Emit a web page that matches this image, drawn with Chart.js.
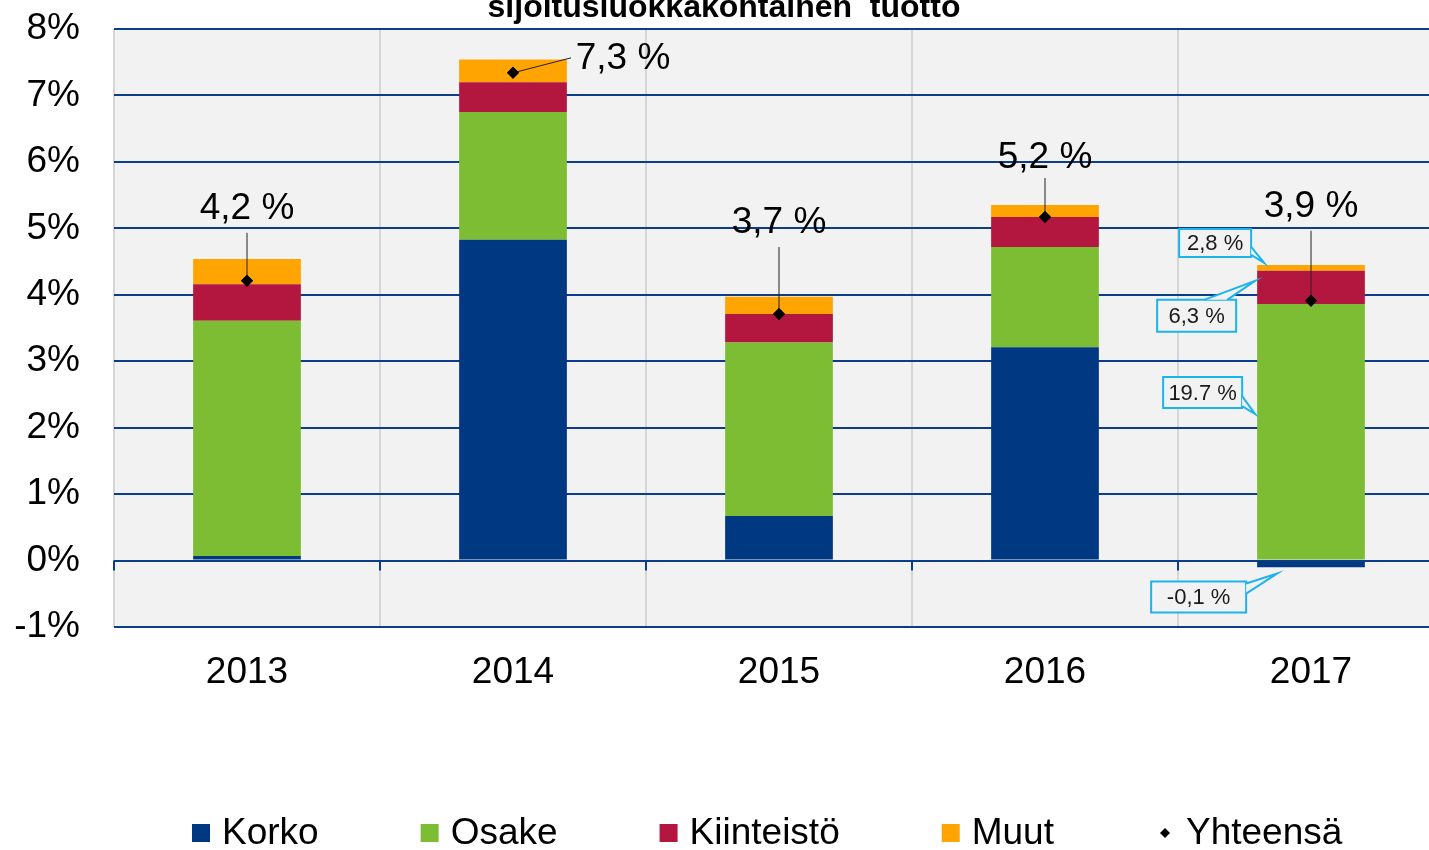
<!DOCTYPE html>
<html lang="fi">
<head>
<meta charset="UTF-8">
<title>Sijoitusluokkakohtainen tuotto</title>
<script src="https://cdn.jsdelivr.net/npm/chart.js"></script>
<style>
  * { margin: 0; padding: 0; box-sizing: border-box; }
  body { background: #fff; overflow: hidden; width: 1429px; height: 850px; }
  #wrap { position: relative; width: 1450px; height: 850px; }
</style>
</head>
<body>
<div id="wrap"><canvas id="chart" width="1450" height="850"></canvas></div>
<script>
// --- data ---
const years = ['2013', '2014', '2015', '2016', '2017'];
const korko = [0.07, 4.83, 0.67, 3.21, -0.10];
const osake = [3.54, 1.92, 2.61, 1.51, 3.86];
const kiinteisto = [0.55, 0.45, 0.43, 0.45, 0.50];
const muut = [0.38, 0.34, 0.26, 0.18, 0.09];
const yhteensa = [4.21, 7.34, 3.71, 5.17, 3.91];
const totalLabels = ['4,2 %', '7,3 %', '3,7 %', '5,2 %', '3,9 %'];
// callouts on the 2017 bar, one per series (Korko, Osake, Kiinteistö, Muut)
const callouts2017 = ['-0,1 %', '19.7 %', '6,3 %', '2,8 %'];
const yMin = -1, yMax = 8;

const FONT = '"Liberation Sans", Arial, sans-serif';
const colors = ['#003882', '#7dbd33', '#b3163f', '#ffa400'];
const names = ['Korko', 'Osake', 'Kiinteistö', 'Muut', 'Yhteensä'];

// label placement relative to the total marker: [label dx, label dy, leader end dx, leader end dy]
const labelPos = [
  [0, -72, 0, -48],
  [110, -14, 58, -15],
  [0, -91, 0, -67],
  [0, -59, 0, -39],
  [0, -94, 0, -70]
];
// callout boxes relative to their tip
const calloutGeo = [
  { tip: [20, 12], box: [-126, 8, 95, 31], base: [[-31, 10], [-31, 20]] },      // Korko, tip below bar
  { tip: [-2, 110], box: [-92, -37, 79, 31], base: [[-13, -18], [-13, -8]] },   // Osake
  { tip: [-2, 10], box: [-98, 19, 79, 32], base: [[-51, 19], [-28, 19]] },      // Kiinteistö
  { tip: [7, -2], box: [-85, -34, 72, 28], base: [[-13, -16], [-13, -8]] }       // Muut
];

const plotBg = {
  id: 'plotBg',
  beforeDraw(chart) {
    const { ctx, chartArea: a } = chart;
    ctx.save();
    ctx.fillStyle = '#f2f2f2';
    ctx.fillRect(a.left, a.top, a.right - a.left, a.bottom - a.top);
    ctx.restore();
  },
  beforeDatasetsDraw(chart) {
    // short tick marks under the 0 % line at category boundaries
    const { ctx, scales: { x, y } } = chart;
    const y0 = y.getPixelForValue(0);
    const half = (x.getPixelForValue(1) - x.getPixelForValue(0)) / 2;
    ctx.save();
    ctx.strokeStyle = '#0b3d8a';
    ctx.lineWidth = 2;
    for (let i = 0; i < years.length; i++) {
      const bx = x.getPixelForValue(i) - half;
      ctx.beginPath();
      ctx.moveTo(bx, y0);
      ctx.lineTo(bx, y0 + 10);
      ctx.stroke();
    }
    ctx.restore();
  }
};

const extras = {
  id: 'extras',
  afterDatasetsDraw(chart) {
    const { ctx } = chart;
    const totalMeta = chart.getDatasetMeta(4);
    ctx.save();
    // totals with leader lines
    ctx.font = '37px ' + FONT;
    ctx.fillStyle = '#000';
    ctx.textAlign = 'center';
    ctx.textBaseline = 'middle';
    totalMeta.data.forEach((pt, i) => {
      const p = labelPos[i];
      ctx.strokeStyle = '#222';
      ctx.lineWidth = 1;
      ctx.beginPath();
      ctx.moveTo(pt.x, pt.y);
      ctx.lineTo(pt.x + p[2], pt.y + p[3]);
      ctx.stroke();
      ctx.fillText(totalLabels[i], pt.x + p[0], pt.y + p[1]);
    });
    // redraw markers over leader lines
    totalMeta.data.forEach(pt => pt.draw(ctx));

    // callouts for 2017
    const last = years.length - 1;
    ctx.font = '22px ' + FONT;
    for (let s = 0; s < 4; s++) {
      const bar = chart.getDatasetMeta(s).data[last];
      const g = calloutGeo[s];
      const left = bar.x - bar.width / 2;
      const top = Math.min(bar.y, bar.base);
      const tx = left + g.tip[0], ty = top + g.tip[1];
      const [bx, by, bw, bh] = g.box;
      ctx.fillStyle = '#f2f2f2';
      ctx.strokeStyle = '#1cb4ef';
      ctx.lineWidth = 2;
      ctx.beginPath();
      ctx.rect(tx + bx, ty + by, bw, bh);
      ctx.fill();
      ctx.stroke();
      ctx.beginPath();
      ctx.moveTo(tx + g.base[0][0], ty + g.base[0][1]);
      ctx.lineTo(tx, ty);
      ctx.lineTo(tx + g.base[1][0], ty + g.base[1][1]);
      ctx.fill();
      ctx.stroke();
      ctx.fillStyle = '#1a1a1a';
      ctx.textAlign = 'center';
      ctx.fillText(callouts2017[s], tx + bx + bw / 2, ty + by + bh / 2 + 1);
    }
    ctx.restore();
  },
  afterDraw(chart) {
    const { ctx } = chart;
    ctx.save();
    // title, partly cut off at the top edge
    ctx.font = 'bold 32px ' + FONT;
    ctx.fillStyle = '#000';
    ctx.textAlign = 'center';
    ctx.textBaseline = 'alphabetic';
    ctx.fillText('sijoitusluokkakohtainen  tuotto', 724, 17);

    // legend
    ctx.font = '37px ' + FONT;
    ctx.textAlign = 'left';
    ctx.textBaseline = 'middle';
    let lx = 192;
    const ly = 833;
    names.forEach((n, i) => {
      if (i < 4) {
        ctx.fillStyle = colors[i];
        ctx.fillRect(lx, ly - 9, 18, 18);
      } else {
        ctx.fillStyle = '#000';
        ctx.beginPath();
        ctx.moveTo(lx + 9, ly - 5);
        ctx.lineTo(lx + 14, ly);
        ctx.lineTo(lx + 9, ly + 5);
        ctx.lineTo(lx + 4, ly);
        ctx.closePath();
        ctx.fill();
      }
      ctx.fillStyle = '#000';
      ctx.fillText(n, lx + 30, ly + 1);
      lx += 30 + ctx.measureText(n).width + 102;
    });
    ctx.restore();
  }
};

const seriesData = [korko, osake, kiinteisto, muut];

new Chart(document.getElementById('chart'), {
  data: {
    labels: years,
    datasets: [
      ...seriesData.map((d, i) => ({
        type: 'bar',
        label: names[i],
        data: d,
        backgroundColor: colors[i],
        stack: 'main',
        barPercentage: 0.405,
        categoryPercentage: 1,
        order: 2
      })),
      {
        type: 'line',
        label: names[4],
        data: yhteensa,
        stack: 'total',
        showLine: false,
        pointStyle: 'rectRot',
        pointRadius: 6,
        pointBackgroundColor: '#000',
        pointBorderColor: '#000',
        pointBorderWidth: 0,
        order: 1
      }
    ]
  },
  options: {
    responsive: false,
    animation: false,
    devicePixelRatio: 1,
    layout: { padding: { top: 29, right: 3, bottom: 0, left: 0 } },
    plugins: {
      legend: { display: false },
      title: { display: false },
      tooltip: { enabled: false }
    },
    scales: {
      x: {
        stacked: true,
        grid: { color: '#d6d6d6', lineWidth: 2, drawTicks: false, offset: true },
        border: { display: false },
        ticks: { color: '#000', font: { family: FONT, size: 37 }, padding: 24 },
        afterFit(scale) { scale.height = 223; scale.paddingLeft = 0; scale.paddingRight = 0; }
      },
      y: {
        stacked: true,
        min: yMin,
        max: yMax,
        grid: { color: '#0b3d8a', lineWidth: 2, drawTicks: false },
        border: { display: false },
        ticks: {
          stepSize: 1,
          color: '#000',
          font: { family: FONT, size: 37 },
          padding: 34,
          callback: v => v + '%'
        },
        afterFit(scale) { scale.width = 114; scale.paddingTop = 0; scale.paddingBottom = 0; }
      }
    }
  },
  plugins: [plotBg, extras]
});
</script>
</body>
</html>
